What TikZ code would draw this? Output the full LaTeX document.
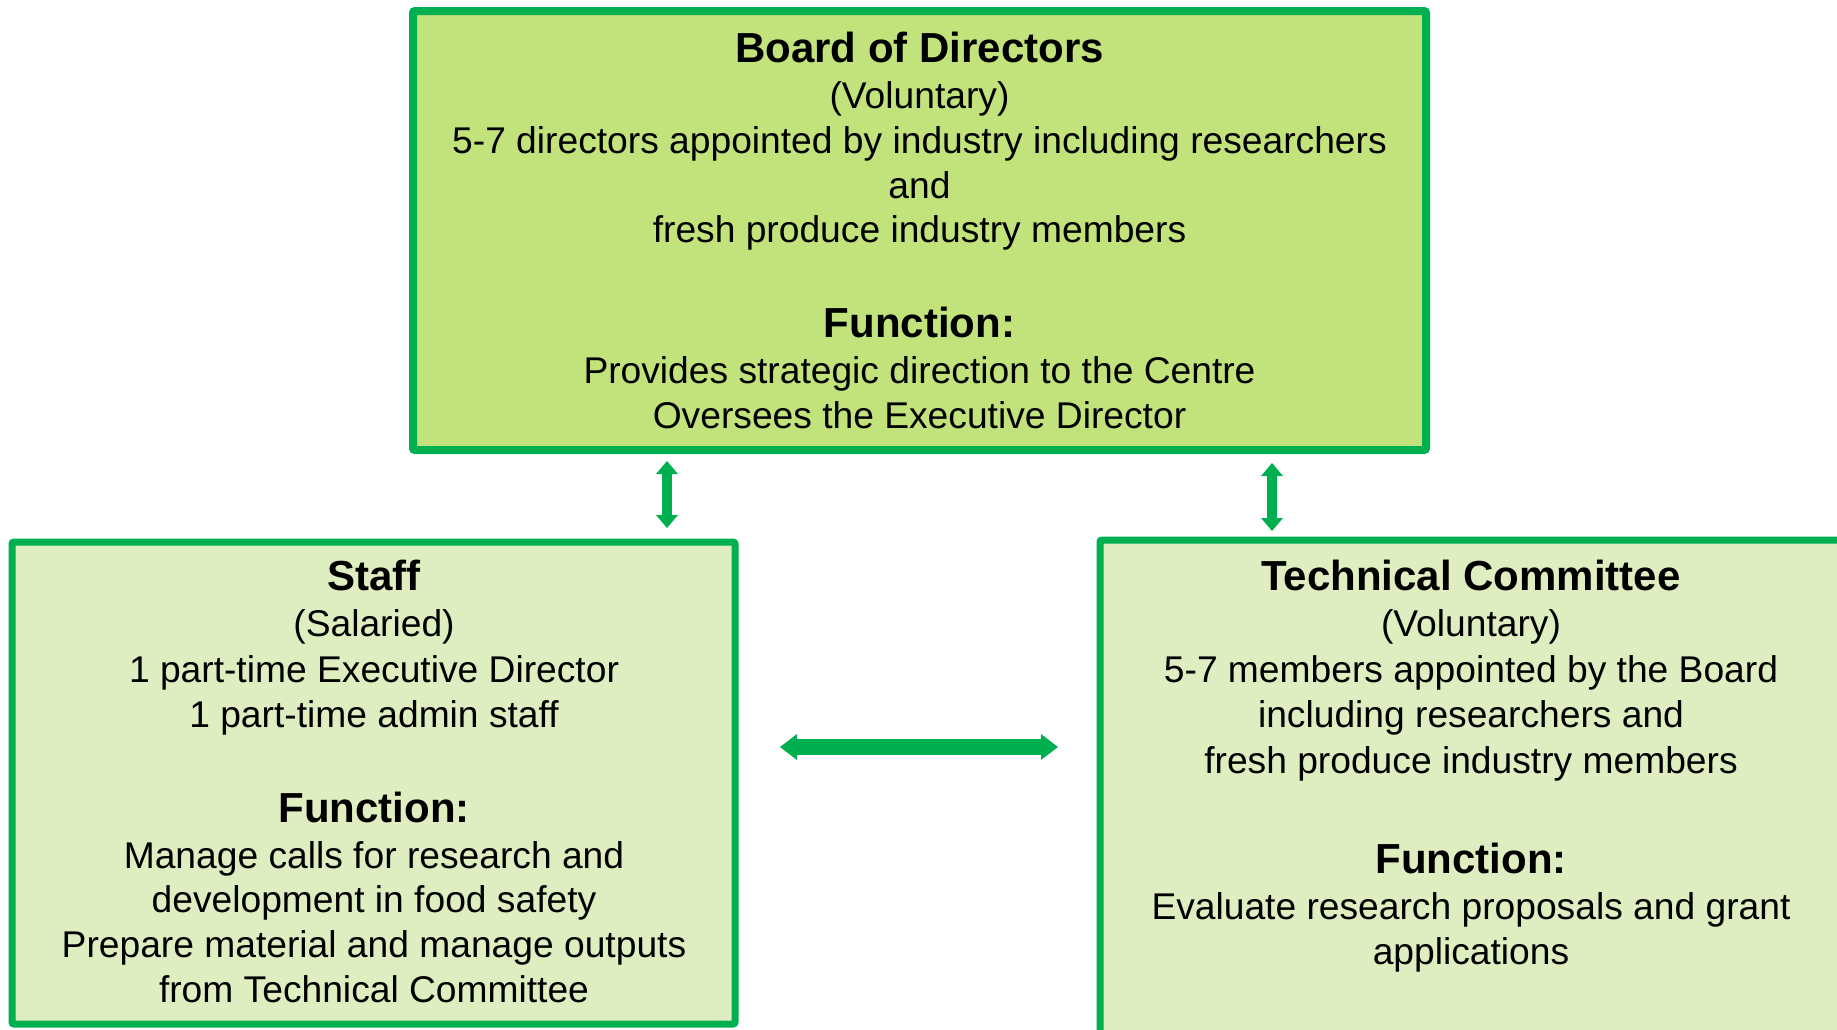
\documentclass[tikz,border=0pt]{standalone}
\usepackage{fontspec}
\setmainfont{Liberation Sans}
\usetikzlibrary{arrows.meta}
\definecolor{brdgreen}{HTML}{00B050}
\definecolor{darkfill}{HTML}{C2E27C}
\definecolor{lightfill}{HTML}{DEEEC0}
\tikzset{
  box/.style={draw=brdgreen, rectangle, inner sep=0pt, outer sep=0pt, rounded corners=2pt},
  bodytxt/.style={anchor=base, inner sep=0pt, font=\fontsize{37.2}{44.7}\selectfont},
  headtxt/.style={anchor=base, inner sep=0pt, font=\fontsize{42}{49}\selectfont\bfseries},
  duo/.style={draw=brdgreen, line width=#1},
}
\begin{document}
\begin{tikzpicture}[x=1pt,y=-1pt]
\path[use as bounding box] (0,0) rectangle (1837,1029);
\clip (0,0) rectangle (1837,1029);

% boxes
\node[box, fill=darkfill, line width=8pt, minimum width=1013pt, minimum height=439pt] (board) at (919.5,230.5) {};
\node[box, fill=lightfill, line width=7pt, minimum width=723pt, minimum height=482pt] (staff) at (373.5,783) {};
\node[box, fill=lightfill, line width=7pt, minimum width=742pt, minimum height=500pt] (tech) at (1471,790) {};

% board text
\node[headtxt] (b1) at (919.5,62) {Board of Directors};
\node[bodytxt] (b2) at (919.5,108) {(Voluntary)};
\node[bodytxt] (b3) at (919.5,153) {5-7 directors appointed by industry including researchers};
\node[bodytxt] (b4) at (919.5,198) {and};
\node[bodytxt] (b5) at (919.5,242) {fresh produce industry members};
\node[headtxt] (b6) at (919.5,337) {Function:};
\node[bodytxt] (b7) at (919.5,383) {Provides strategic direction to the Centre};
\node[bodytxt] (b8) at (919.5,428) {Oversees the Executive Director};

% staff text
\node[headtxt] (s1) at (374,590) {Staff};
\node[bodytxt] (s2) at (374,636) {(Salaried)};
\node[bodytxt] (s3) at (374,682) {1 part-time Executive Director};
\node[bodytxt] (s4) at (374,727) {1 part-time admin staff};
\node[headtxt] (s5) at (374,822) {Function:};
\node[bodytxt] (s6) at (374,868) {Manage calls for research and};
\node[bodytxt] (s7) at (374,912) {development in food safety};
\node[bodytxt] (s8) at (374,957) {Prepare material and manage outputs};
\node[bodytxt] (s9) at (374,1002) {from Technical Committee};

% technical committee text
\node[headtxt] (t1) at (1471,590) {Technical Committee};
\node[bodytxt] (t2) at (1471,636) {(Voluntary)};
\node[bodytxt] (t3) at (1471,682) {5-7 members appointed by the Board};
\node[bodytxt] (t4) at (1471,727) {including researchers and};
\node[bodytxt] (t5) at (1471,773) {fresh produce industry members};
\node[headtxt] (t6) at (1471,873) {Function:};
\node[bodytxt] (t7) at (1471,919) {Evaluate research proposals and grant};
\node[bodytxt] (t8) at (1471,964) {applications};

% arrows
\coordinate (a1top) at (667,461);
\coordinate (a1bot) at (667,528);
\coordinate (a2top) at (1272,463);
\coordinate (a2bot) at (1272,531);
\coordinate (a3l) at (780,747);
\coordinate (a3r) at (1058,747);
\draw[duo=10pt, {Triangle[width=22pt,length=13pt,line width=0pt]}-{Triangle[width=22pt,length=13pt,line width=0pt]}, brdgreen] (a1top) -- (a1bot);
\draw[duo=10pt, {Triangle[width=22pt,length=13pt,line width=0pt]}-{Triangle[width=22pt,length=13pt,line width=0pt]}, brdgreen] (a2top) -- (a2bot);
\draw[duo=16pt, {Triangle[width=26pt,length=17pt,line width=0pt,round]}-{Triangle[width=26pt,length=17pt,line width=0pt,round]}, brdgreen] (a3l) -- (a3r);
\end{tikzpicture}
\end{document}
